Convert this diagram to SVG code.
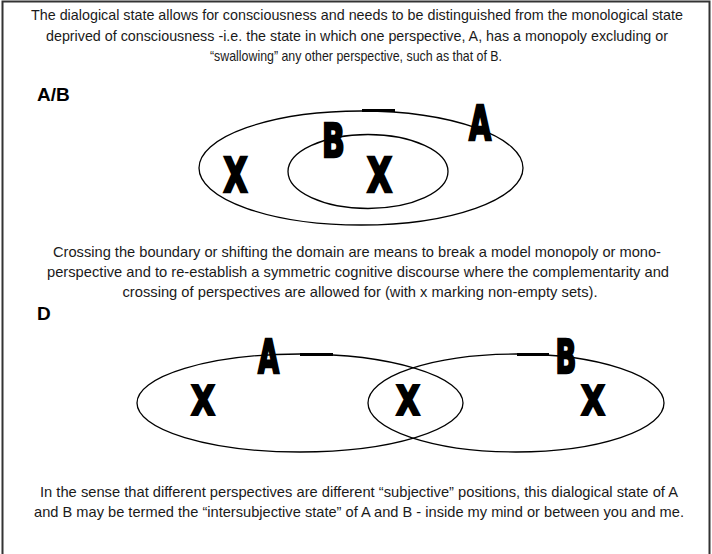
<svg xmlns="http://www.w3.org/2000/svg" width="712" height="554" viewBox="0 0 712 554">
<style>
.t{font-family:"Liberation Sans Narrow","Liberation Sans",Arial,sans-serif;font-size:15px;fill:#1a1a1a;text-anchor:middle}
.h{font-family:"Liberation Sans",Arial,sans-serif;font-size:19px;font-weight:bold;fill:#000}
.big{font-family:"DejaVu Sans",sans-serif;font-weight:bold;font-size:26px;fill:#000;stroke:#000;stroke-width:1.4;text-anchor:middle}
.e{fill:none;stroke:#000;stroke-width:1.3}
.dash{stroke:#000;stroke-width:3}
</style>
<rect x="2.5" y="1.5" width="707" height="570" fill="#fff" stroke="#333" stroke-width="2"/>
<g id="text-top">
<text class="t" x="357" y="20" style="font-size:14.3px" textLength="652" lengthAdjust="spacingAndGlyphs">The dialogical state allows for consciousness and needs to be distinguished from the monological state</text>
<text class="t" x="357" y="40.5" textLength="622" lengthAdjust="spacingAndGlyphs">deprived of consciousness -i.e. the state in which one perspective, A, has a monopoly excluding or</text>
<text class="t" x="356" y="61" textLength="292" lengthAdjust="spacingAndGlyphs">“swallowing” any other perspective, such as that of B.</text>
<text class="h" x="37" y="101">A/B</text>
</g>
<g id="diagram-AB">
<ellipse id="ellipse-A" class="e" cx="361" cy="168" rx="162" ry="57"/>
<ellipse id="ellipse-B" class="e" cx="368" cy="171.5" rx="80" ry="37"/>
<line class="dash" x1="362" y1="110.5" x2="395" y2="110.5"/>
<g id="label-A1"><text class="big" transform="translate(480,140) scale(1.1,1.85)">A</text></g>
<g id="label-B1"><text class="big" transform="translate(333.5,157) scale(1.15,1.75)">B</text></g>
<g id="x1"><text class="big" transform="translate(235.5,192) scale(1.2,1.85)">X</text></g>
<g id="x2"><text class="big" transform="translate(379.5,192) scale(1.25,1.85)">X</text></g>
</g>
<g id="text-mid">
<text class="t" x="357" y="256.5" textLength="608" lengthAdjust="spacingAndGlyphs">Crossing the boundary or shifting the domain are means to break a model monopoly or mono-</text>
<text class="t" x="358" y="276.5" textLength="622" lengthAdjust="spacingAndGlyphs">perspective and to re-establish a symmetric cognitive discourse where the complementarity and</text>
<text class="t" x="360" y="296.5" textLength="475" lengthAdjust="spacingAndGlyphs">crossing of perspectives are allowed for (with x marking non-empty sets).</text>
<text class="h" x="37" y="320">D</text>
</g>
<g id="diagram-D">
<ellipse id="ellipse-DA" class="e" cx="300" cy="403" rx="163" ry="49"/>
<ellipse id="ellipse-DB" class="e" cx="516" cy="403" rx="148" ry="49"/>
<line class="dash" x1="300" y1="354.5" x2="333" y2="354.5"/>
<line class="dash" x1="517" y1="354.5" x2="549" y2="354.5"/>
<g id="label-A2"><text class="big" transform="translate(268.5,373) scale(1.05,1.75)">A</text></g>
<g id="label-B2"><text class="big" transform="translate(566,373) scale(1.05,1.75)">B</text></g>
<g id="x3"><text class="big" transform="translate(203,415) scale(1.2,1.55)">X</text></g>
<g id="x4"><text class="big" transform="translate(408,415) scale(1.2,1.55)">X</text></g>
<g id="x5"><text class="big" transform="translate(593,415) scale(1.2,1.55)">X</text></g>
</g>
<g id="text-bottom">
<text class="t" x="359" y="496.5" textLength="638" lengthAdjust="spacingAndGlyphs">In the sense that different perspectives are different “subjective” positions, this dialogical state of A</text>
<text class="t" x="359" y="516.5" textLength="650" lengthAdjust="spacingAndGlyphs">and B may be termed the “intersubjective state” of A and B - inside my mind or between you and me.</text>
</g>
</svg>
